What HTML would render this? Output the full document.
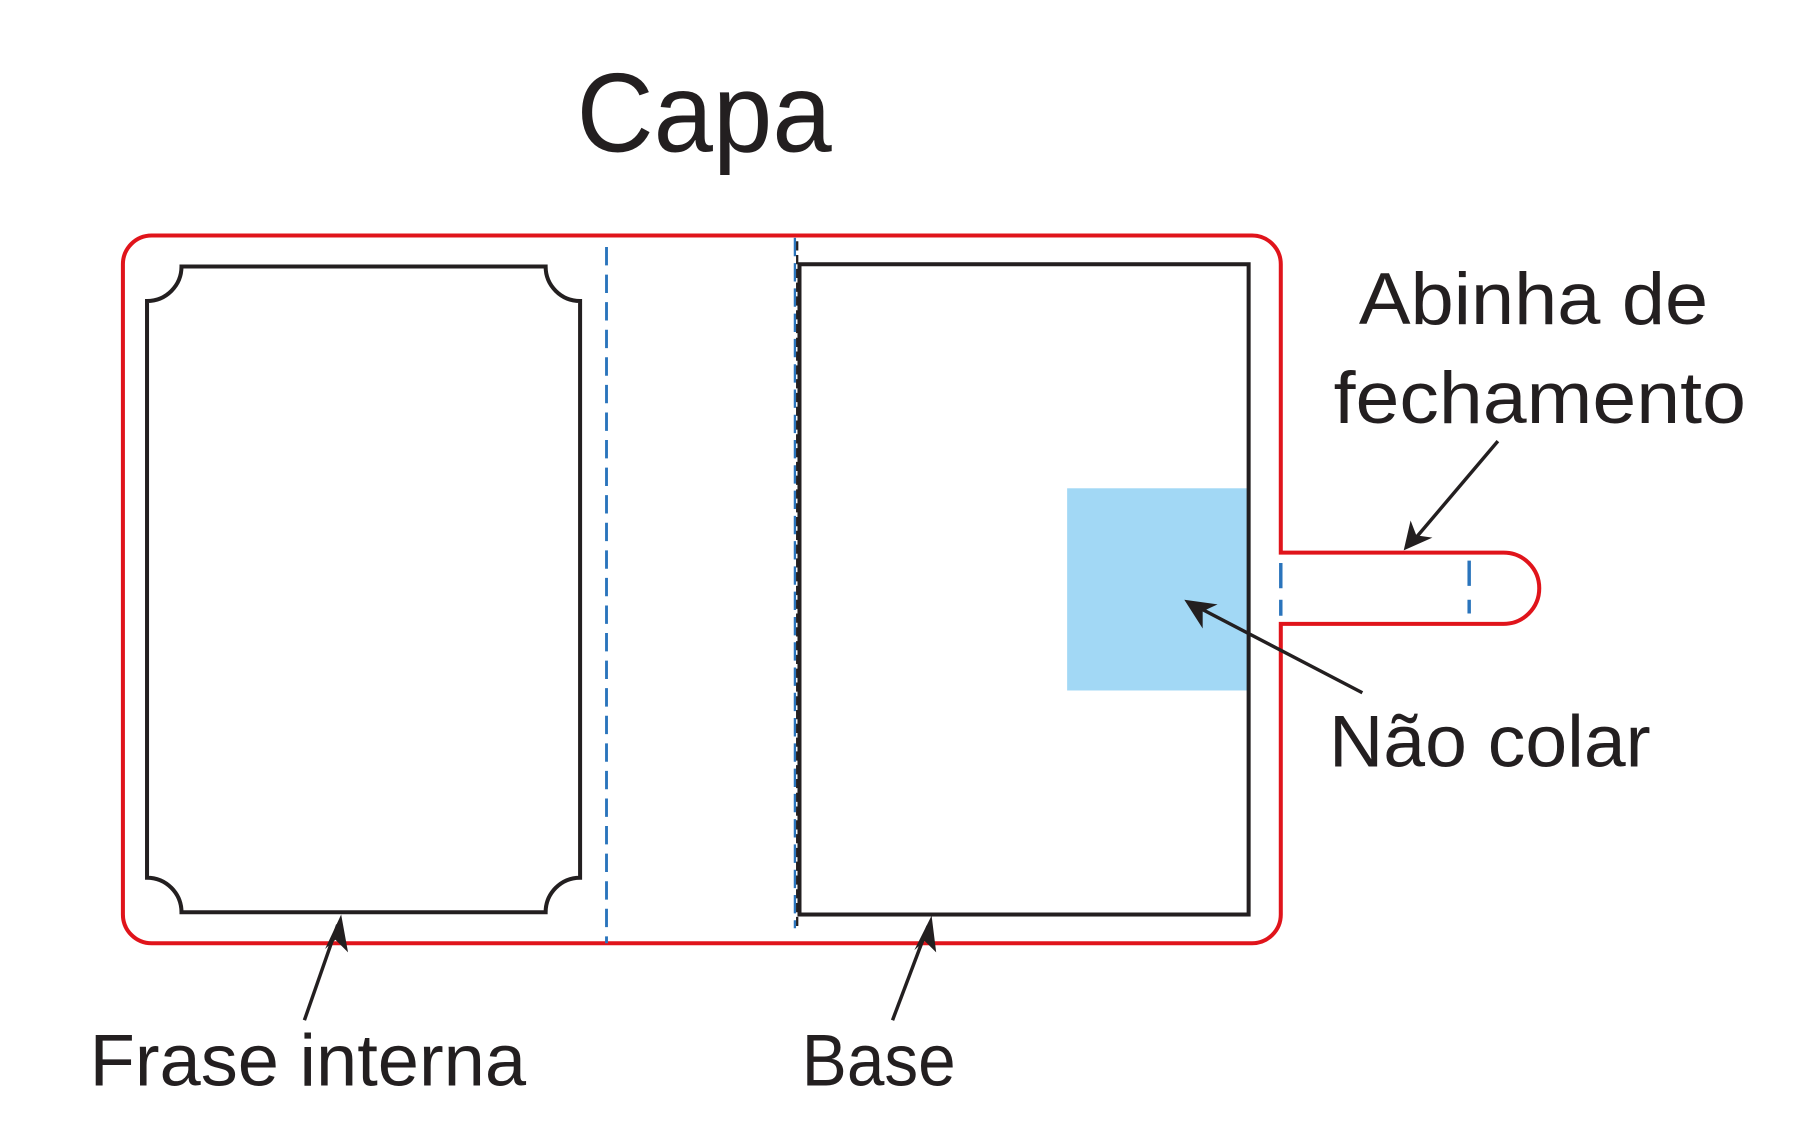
<!DOCTYPE html>
<html><head><meta charset="utf-8"><style>
html,body{margin:0;padding:0;background:#fff;}
svg{display:block;}
text{font-family:"Liberation Sans",sans-serif;fill:#231f20;}
</style></head><body>
<svg width="1800" height="1142" viewBox="0 0 1567 994" preserveAspectRatio="none" xmlns="http://www.w3.org/2000/svg">
<text x="613" y="132" font-size="98" text-anchor="middle" textLength="222" lengthAdjust="spacingAndGlyphs">Capa</text>
<rect x="929" y="425" width="158" height="176" fill="#a2d8f5"/>
<path d="M132 205 H1090 A25 25 0 0 1 1115 230 V481 H1309 A31 31 0 0 1 1309 543 H1115 V796 A25 25 0 0 1 1090 821 H132 A25 25 0 0 1 107 796 V230 A25 25 0 0 1 132 205 Z" fill="none" stroke="#e0141b" stroke-width="3.5"/>
<path d="M158 232 H475 A30 30 0 0 0 505 262 V764 A30 30 0 0 0 475 794 H158 A30 30 0 0 0 128 764 V262 A30 30 0 0 0 158 232 Z" fill="none" stroke="#231f20" stroke-width="3.5"/>
<rect x="696" y="230" width="391" height="566" fill="none" stroke="#231f20" stroke-width="3.5"/>
<line x1="528" y1="215" x2="528" y2="821" stroke="#2a74bc" stroke-width="2.5" stroke-dasharray="16 8"/>
<line x1="694" y1="210" x2="694" y2="808" stroke="#231f20" stroke-width="2" stroke-dasharray="8 4"/>
<line x1="692" y1="207" x2="692" y2="808" stroke="#2a74bc" stroke-width="2" stroke-dasharray="16 6"/>
<line x1="1115" y1="490" x2="1115" y2="536" stroke="#2a74bc" stroke-width="3" stroke-dasharray="22 10"/>
<line x1="1279" y1="488" x2="1279" y2="534" stroke="#2a74bc" stroke-width="3" stroke-dasharray="22 12"/>
<g stroke="#231f20" stroke-width="3" fill="#231f20">
<line x1="265" y1="888" x2="294" y2="805"/>
<polygon points="297,796 283,826 292,818 303,829" stroke="none"/>
<line x1="777" y1="888" x2="808" y2="806"/>
<polygon points="811,797 796,827 805,819 815,829" stroke="none"/>
<line x1="1304" y1="384" x2="1231" y2="470"/>
<polygon points="1222,479 1228,453 1233,466 1247,468" stroke="none"/>
<line x1="1186" y1="603" x2="1042" y2="528"/>
<polygon points="1031,522 1060,526 1047,532 1047,547" stroke="none"/>
</g>
<text x="78" y="945" font-size="64" textLength="380" lengthAdjust="spacingAndGlyphs">Frase interna</text>
<text x="698" y="945" font-size="64" textLength="134" lengthAdjust="spacingAndGlyphs">Base</text>
<text x="1157" y="667" font-size="64" textLength="280" lengthAdjust="spacingAndGlyphs">Não colar</text>
<text x="1183" y="282" font-size="64" textLength="304" lengthAdjust="spacingAndGlyphs">Abinha de</text>
<text x="1161" y="368" font-size="64" textLength="359" lengthAdjust="spacingAndGlyphs">fechamento</text>
</svg>
</body></html>
